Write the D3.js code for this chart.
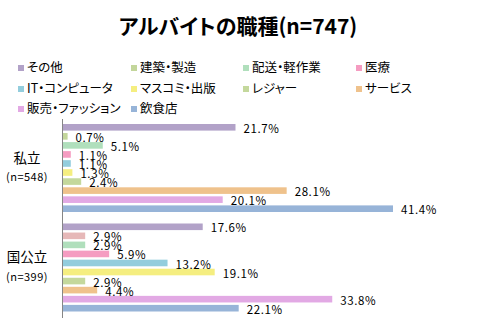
<html>
<head>
<meta charset="utf-8">
<style>
  body { margin: 0; background: #fff; }
  text { font-family: "Noto Sans CJK JP", "Noto Sans", sans-serif; font-feature-settings: "palt"; }
</style>
</head>
<body>
<svg id="svg" width="477" height="322"></svg>
<script src="https://d3js.org/d3.v7.min.js"></script>
<script>

// data
var title = "アルバイトの職種(n=747)";
var groups = ["私立", "国公立"];
var groupN = ["(n=548)", "(n=399)"];
var series = ["その他", "建築・製造", "配送・軽作業", "医療", "IT・コンピュータ",
              "マスコミ・出版", "レジャー", "サービス", "販売・ファッション", "飲食店"];
var shiritsu = [21.7, 0.7, 5.1, 1.1, 1.1, 1.3, 2.4, 28.1, 20.1, 41.4];
var kokkouritsu = [17.6, 2.9, 2.9, 5.9, 13.2, 19.1, 2.9, 4.4, 33.8, 22.1];
var values = [shiritsu, kokkouritsu];

var colors = ["#b2a2c8", "#c3d69b", "#b0dfbc", "#f59cc1", "#93cddd",
              "#f5ee80", "#c4d89c", "#efc28c", "#e2a9e4", "#97b4d8"];
// the 国公立 建築・製造 bar is drawn in a different tone in the original
var oddColor = "#e6b8b8";

var svg = d3.select("#svg");
svg.append("rect").attr("width", 477).attr("height", 322).attr("fill", "#fff");

svg.append("text")
  .attr("x", 238).attr("y", 34)
  .attr("text-anchor", "middle")
  .style("font-size", "21px").style("font-weight", "bold")
  .text(title);

// legend
var legCols = [18, 131, 243, 356], legRows = [68, 89, 109];
var leg = svg.selectAll("g.leg").data(series)
  .join("g").classed("leg", true)
  .attr("transform", (d, i) => "translate(" + legCols[i % 4] + "," + legRows[Math.floor(i / 4)] + ")");
leg.append("rect")
  .attr("x", 0).attr("y", -3).attr("width", 6).attr("height", 6)
  .attr("fill", (d, i) => colors[i]);
leg.append("text")
  .attr("x", 9).attr("dy", "0.35em")
  .style("font-size", "12.5px")
  .text(d => d);

// scales
var x0 = 62;
var x = d3.scaleLinear().domain([0, 41.4]).range([x0, 393]);
var y = d3.scaleBand().domain(groups).range([118.5, 317.5]);
var yi = d3.scaleBand().domain(d3.range(series.length)).range([5.5, 93.5]).paddingInner(0.27);

var g = svg.selectAll("g.grp").data(groups)
  .join("g").classed("grp", true)
  .attr("transform", d => "translate(0," + y(d) + ")");

g.selectAll("rect.bar").data((d, gi) => values[gi].map((v, i) => ({v: v, i: i, gi: gi})))
  .join("rect").classed("bar", true)
  .attr("x", x(0))
  .attr("y", d => yi(d.i))
  .attr("width", d => x(d.v) - x(0))
  .attr("height", yi.bandwidth())
  .attr("fill", d => (d.gi == 1 && d.i == 1) ? oddColor : colors[d.i]);

g.selectAll("text.val").data((d, gi) => values[gi].map((v, i) => ({v: v, i: i})))
  .join("text").classed("val", true)
  .attr("x", d => x(d.v) + 8)
  .attr("y", d => yi(d.i) + yi.bandwidth() / 2 + 1.5)
  .attr("dy", "0.35em")
  .style("font-size", "11.5px").style("letter-spacing", "0.6px")
  .text(d => d.v.toFixed(1) + "%");

// category labels
g.append("text")
  .attr("x", 27).attr("y", y.bandwidth() / 2 - 10).attr("dy", "0.35em")
  .attr("text-anchor", "middle")
  .style("font-size", "13.5px")
  .text(d => d);
g.append("text")
  .attr("x", 27).attr("y", y.bandwidth() / 2 + 9).attr("dy", "0.35em")
  .attr("text-anchor", "middle")
  .style("font-size", "11px").style("letter-spacing", "0.5px")
  .text((d, i) => groupN[i]);

// axis line
svg.append("g")
  .attr("transform", "translate(" + x0 + ",0)")
  .call(d3.axisLeft(y).tickSize(0).tickFormat(""))
  .call(a => a.select(".domain").attr("stroke", "#868686"));

</script>
</body>
</html>
